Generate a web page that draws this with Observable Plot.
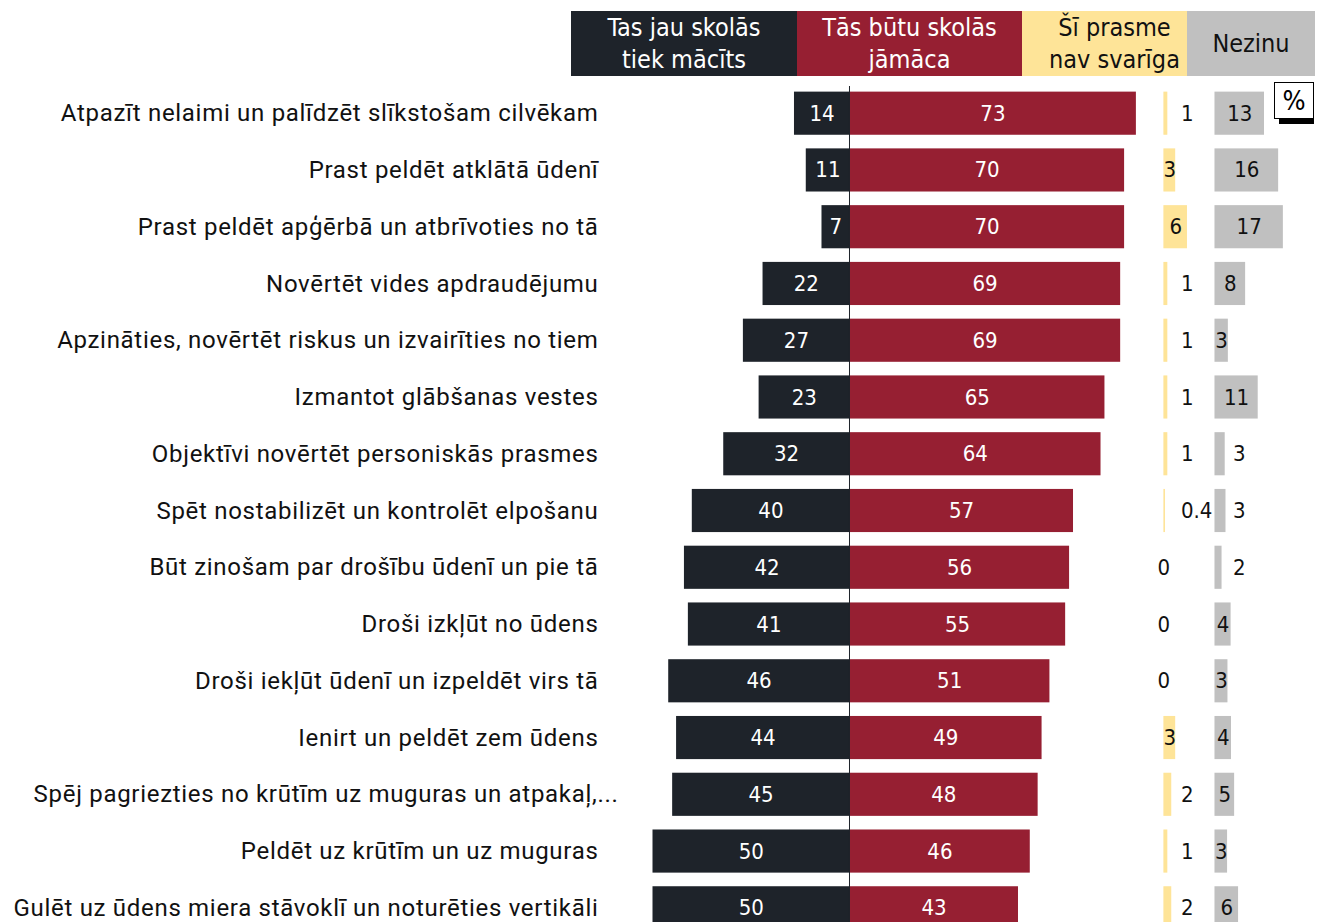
<!DOCTYPE html>
<html>
<head>
<meta charset="utf-8">
<script src="https://cdn.jsdelivr.net/npm/d3@7"></script>
<script src="https://cdn.jsdelivr.net/npm/@observablehq/plot@0.6"></script>
<style>
  html, body { margin: 0; padding: 0; background: #fff; overflow: hidden; }
  #wrap { position: relative; width: 1318px; height: 922px; overflow: hidden; }
  #legend { position: absolute; left: 571px; top: 11px; display: flex; height: 65px; z-index: 2;
    font-family: "Liberation Sans Narrow", "DejaVu Sans Condensed", Roboto, sans-serif; font-size: 25px; line-height: 32px; }
  #legend div { display: flex; align-items: center; justify-content: center; text-align: center; box-sizing: border-box; }
  #pct { position: absolute; left: 1274px; top: 82px; width: 38px; height: 35px; border: 1px solid #000; background: #fff; z-index: 3;
    display: flex; align-items: center; justify-content: center; font-family: "DejaVu Sans Condensed", Roboto, sans-serif; font-size: 27px; font-weight: 300; }
  #pctShadow { position: absolute; left: 1279px; top: 117px; width: 35px; height: 7px; background: #000; z-index: 2; }
  #chart { position: absolute; left: 0; top: 0; }
  .rowlabel, .rowlabel text { letter-spacing: 0.7px; }
</style>
</head>
<body>
<div id="wrap">
  <div id="legend"></div>
  <div id="pctShadow"></div>
  <div id="pct">%</div>
  <div id="chart"></div>
</div>
<script>
const skills = [
  "Atpazīt nelaimi un palīdzēt slīkstošam cilvēkam",
  "Prast peldēt atklātā ūdenī",
  "Prast peldēt apģērbā un atbrīvoties no tā",
  "Novērtēt vides apdraudējumu",
  "Apzināties, novērtēt riskus un izvairīties no tiem",
  "Izmantot glābšanas vestes",
  "Objektīvi novērtēt personiskās prasmes",
  "Spēt nostabilizēt un kontrolēt elpošanu",
  "Būt zinošam par drošību ūdenī un pie tā",
  "Droši izkļūt no ūdens",
  "Droši iekļūt ūdenī un izpeldēt virs tā",
  "Ienirt un peldēt zem ūdens",
  "Spēj pagriezties no krūtīm uz muguras un atpakaļ,...",
  "Peldēt uz krūtīm un uz muguras",
  "Gulēt uz ūdens miera stāvoklī un noturēties vertikāli"
];
const taught    = [14, 11, 7, 22, 27, 23, 32, 40, 42, 41, 46, 44, 45, 50, 50];
const needed    = [73, 70, 70, 69, 69, 65, 64, 57, 56, 55, 51, 49, 48, 46, 43];
const notImport = [1, 3, 6, 1, 1, 1, 1, 0.4, 0, 0, 0, 3, 2, 1, 2];
const dontKnow  = [12.6, 16.2, 17.4, 7.8, 3.4, 11, 2.6, 2.8, 1.8, 4.1, 3.3, 4.2, 5, 3.2, 6];

const legendItems = ["Tas jau skolās<br>tiek mācīts", "Tās būtu skolās<br>jāmāca", "Šī prasme<br>nav svarīga", "Nezinu"];
const legendColors = ["#1e232a", "#961f32", "#fee498", "#c0c0c0"];
const legendText = ["#fff", "#fff", "#111", "#111"];
const legendWidths = [226, 225, 165, 128];
const legendPadLeft = [0, 0, 20, 0];

const legend = document.getElementById("legend");
legendItems.forEach((t, i) => {
  const d = document.createElement("div");
  d.innerHTML = t;
  d.style.background = legendColors[i];
  d.style.color = legendText[i];
  d.style.width = legendWidths[i] + "px";
  d.style.paddingLeft = legendPadLeft[i] + "px";
  legend.appendChild(d);
});

const data = skills.map((s, i) => ({skill: s, taught: taught[i], needed: needed[i], notImp: notImport[i], dk: dontKnow[i]}));

const Y0 = 80;  // start of "nav svarīga" column
const G0 = 93;  // start of "Nezinu" column
const numFont = '"Liberation Sans Narrow", "DejaVu Sans Condensed", Roboto, sans-serif';
const labelFont = 'Roboto, sans-serif';
const longLabel = s => s.endsWith("...");

const fmt = v => Number.isInteger(v) ? String(v) : (Math.abs(v) < 1 ? String(v) : String(Math.round(v)));

const chart = Plot.plot({
  width: 1318,
  height: 943,
  marginLeft: 620,
  marginRight: 0,
  marginTop: 78,
  marginBottom: 0,
  x: {domain: [-58.27, 119.34], axis: null},
  y: {domain: skills, padding: 0.24, round: false, axis: null},
  style: {fontFamily: numFont, fontSize: "22px", background: "transparent"},
  marks: [
    Plot.barX(data, {y: "skill", x1: d => -d.taught, x2: 0, fill: "#1e232a"}),
    Plot.barX(data, {y: "skill", x1: 0, x2: "needed", fill: "#961f32"}),
    Plot.barX(data, {y: "skill", x1: () => Y0, x2: d => Y0 + d.notImp, fill: "#fee498"}),
    Plot.barX(data, {y: "skill", x1: () => G0, x2: d => G0 + d.dk, fill: "#c0c0c0"}),
    Plot.ruleX([0], {stroke: "#1e232a", strokeWidth: 1, insetTop: 8}),
    Plot.text(data, {y: "skill", x: d => -d.taught / 2, text: d => fmt(d.taught), fill: "#fff", fontSize: 22}),
    Plot.text(data, {y: "skill", x: d => d.needed / 2, text: d => fmt(d.needed), fill: "#fff", fontSize: 22}),
    Plot.text(data.filter(d => d.notImp >= 3 || d.notImp === 0), {y: "skill", x: d => Y0 + d.notImp / 2, text: d => fmt(d.notImp), fill: "#111", fontSize: 22}),
    Plot.text(data.filter(d => !(d.notImp >= 3 || d.notImp === 0)), {y: "skill", x: () => Y0, dx: 17, textAnchor: "start", text: d => fmt(d.notImp), fill: "#111", fontSize: 22}),
    Plot.text(data.filter(d => d.dk >= 3), {y: "skill", x: d => G0 + d.dk / 2, text: d => fmt(d.dk), fill: "#111", fontSize: 22}),
    Plot.text(data.filter(d => d.dk < 3), {y: "skill", x: () => G0, dx: 18, textAnchor: "start", text: d => fmt(d.dk), fill: "#111", fontSize: 22}),
    Plot.text(data.filter(d => !longLabel(d.skill)), {y: "skill", frameAnchor: "left", dx: -22, textAnchor: "end", text: "skill", fill: "#111", fontSize: 24, fontFamily: labelFont, className: "rowlabel"}),
    Plot.text(data.filter(d => longLabel(d.skill)), {y: "skill", frameAnchor: "left", dx: -2, textAnchor: "end", text: "skill", fill: "#111", fontSize: 24, fontFamily: labelFont, className: "rowlabel"})
  ]
});
document.getElementById("chart").appendChild(chart);
</script>
</body>
</html>
